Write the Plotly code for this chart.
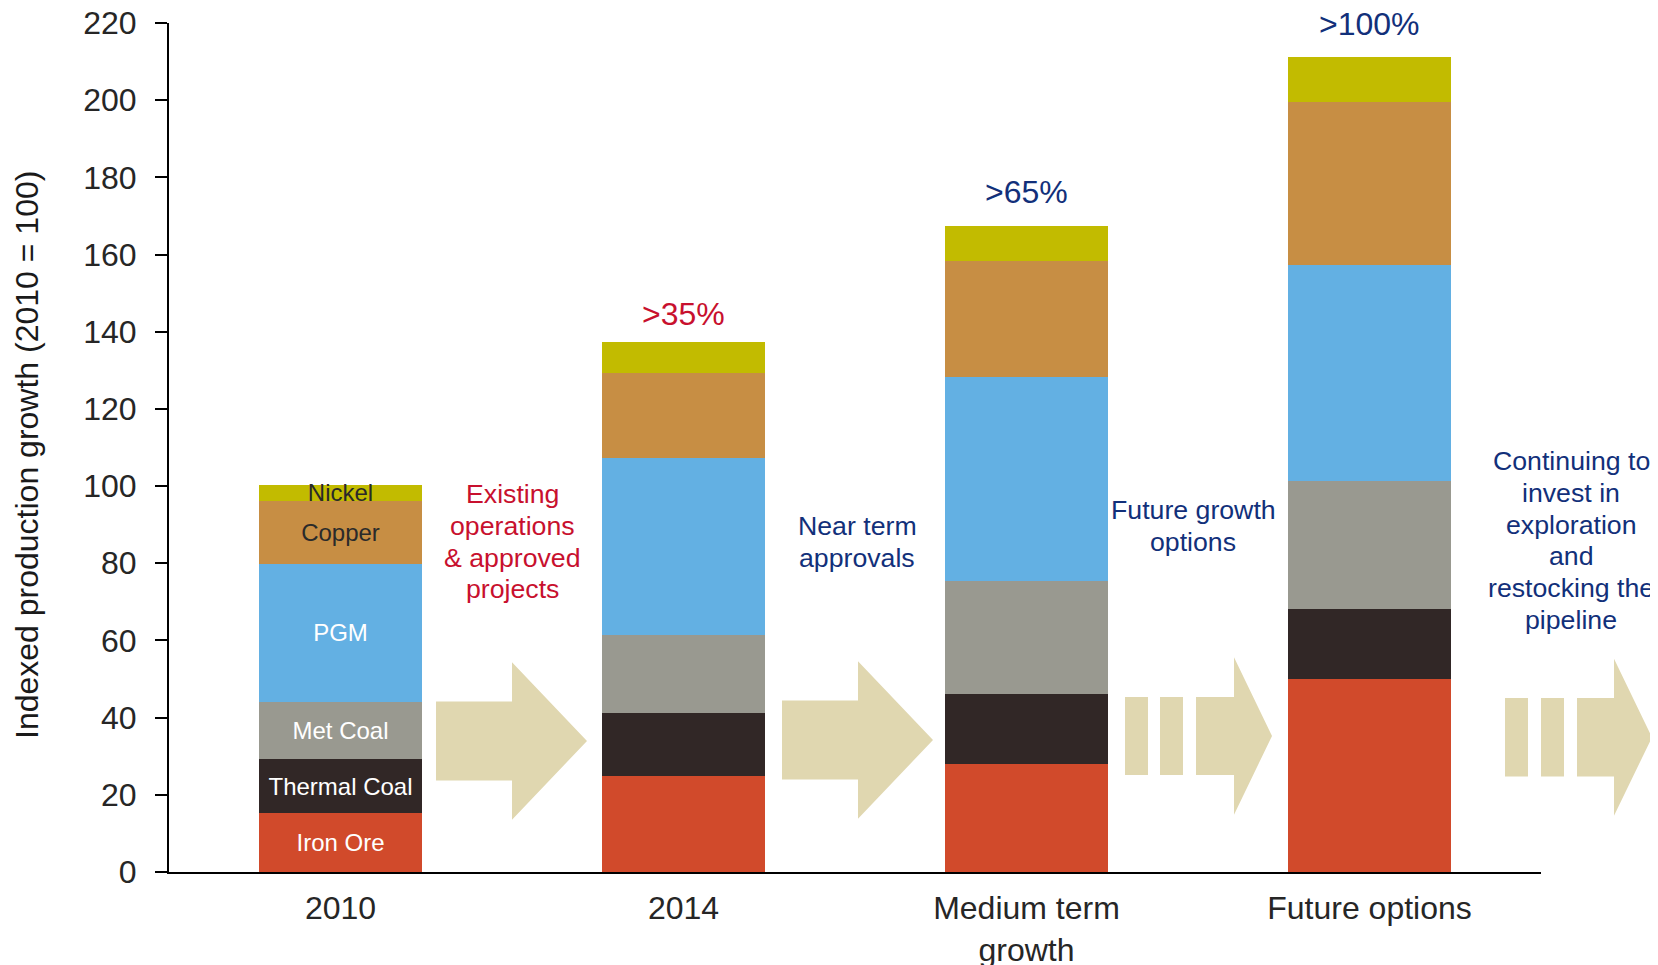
import plotly.graph_objects as go

# ---------------- data ----------------
categories = ["2010", "2014", "Medium term<br>growth", "Future options"]
series_names = ["Iron Ore", "Thermal Coal", "Met Coal", "PGM", "Copper", "Nickel"]
iron_ore = [15.2, 25.0, 28.0, 49.9]
thermal_coal = [14.0, 16.1, 18.2, 18.2]
met_coal = [14.9, 20.2, 29.1, 33.2]
pgm = [35.8, 45.9, 53.0, 56.1]
copper = [16.3, 22.1, 30.0, 42.1]
nickel = [4.2, 8.0, 9.1, 11.8]
growth_labels = ["", ">35%", ">65%", ">100%"]
y_ticks = [0, 20, 40, 60, 80, 100, 120, 140, 160, 180, 200, 220]

series_values = [iron_ore, thermal_coal, met_coal, pgm, copper, nickel]
colors = ["#D14A2B", "#312726", "#999990", "#63B0E3", "#C78E44", "#C2BB00"]
label_colors = ["#FFFFFF", "#FFFFFF", "#FFFFFF", "#FFFFFF", "#2A2A2A", "#2A2A2A"]

RED = "#C8102E"
NAVY = "#12307A"
ARROW = "#E0D7B0"
FONT = "Liberation Sans, Arial, sans-serif"

# ---------------- layout geometry (page pixels) ----------------
PAGE_OFF = 8                     # default body margin of the html page
FW, FH = 1658 - PAGE_OFF, 965 - PAGE_OFF
PL, PR, PT, PB = 169, 1541, 23, 872   # plot area on the page
L, T = PL - PAGE_OFF, PT - PAGE_OFF
W, H = PR - PL, PB - PT
R, B = FW - L - W, FH - T - H


def px_x(px):
    return (px - PL) / W


def px_y(py):
    return (PB - py) / H


fig = go.Figure()

for name, vals, col, lc in zip(series_names, series_values, colors, label_colors):
    fig.add_trace(go.Bar(
        x=categories, y=vals, name=name,
        marker=dict(color=col, line=dict(width=0)),
        width=0.478,
        text=[name, "", "", ""],
        textposition="inside",
        insidetextanchor="middle",
        textangle=0,
        constraintext="none",
        textfont=dict(family=FONT, size=24, color=lc),
        hoverinfo="x+y+name",
    ))

annotations = []

# growth labels above bars
totals = [sum(v[i] for v in series_values) for i in range(len(categories))]
label_shift = [0, 28, 34, 33]
label_color = [RED, RED, NAVY, NAVY]
for i, lab in enumerate(growth_labels):
    if lab:
        annotations.append(dict(
            x=i, y=totals[i], xref="x", yref="y", text=lab, showarrow=False,
            xanchor="center", yanchor="middle", yshift=label_shift[i],
            font=dict(family=FONT, size=32, color=label_color[i]),
        ))


def add_lines(lines, cx, ys, color):
    for line, py in zip(lines, ys):
        annotations.append(dict(
            x=px_x(cx), y=px_y(py), xref="paper", yref="paper", text=line,
            showarrow=False, xanchor="center", yanchor="middle",
            font=dict(family=FONT, size=26.7, color=color),
        ))


add_lines(["Existing", "operations", "&amp; approved", "projects"], 512,
          [494, 525.5, 557.5, 589], RED)
add_lines(["Near term", "approvals"], 857.5, [525.5, 557.5], NAVY)
add_lines(["Future growth", "options"], 1193, [510, 541.5], NAVY)
add_lines(["Continuing to", "invest in", "exploration", "and",
           "restocking the", "pipeline"], 1571,
          [461, 493, 524.5, 556, 588, 619.5], NAVY)

# y-axis title
annotations.append(dict(
    x=px_x(27), y=px_y(455), xref="paper", yref="paper",
    text="Indexed production growth (2010 = 100)", textangle=-90,
    showarrow=False, xanchor="center", yanchor="middle",
    font=dict(family=FONT, size=32, color="#1A1A1A"),
))


# ---------------- arrows ----------------
def solid_arrow(x0, xs, xt, cy, hs, hh):
    pts = [(x0, cy - hs), (xs, cy - hs), (xs, cy - hh), (xt, cy),
           (xs, cy + hh), (xs, cy + hs), (x0, cy + hs)]
    return "M " + " L ".join(f"{px_x(a):.5f},{px_y(b):.5f}" for a, b in pts) + " Z"


def rect_path(x0, x1, y0, y1):
    pts = [(x0, y0), (x1, y0), (x1, y1), (x0, y1)]
    return "M " + " L ".join(f"{px_x(a):.5f},{px_y(b):.5f}" for a, b in pts) + " Z"


shapes = []
for path in [
    solid_arrow(436, 512, 587, 741, 39.5, 78.7),
    solid_arrow(782, 858, 933, 740, 39.5, 78.7),
    rect_path(1125, 1148, 697, 775),
    rect_path(1160, 1183, 697, 775),
    solid_arrow(1196, 1234, 1272, 736, 39, 78.7),
    rect_path(1505, 1528, 698, 776.5),
    rect_path(1541, 1564, 698, 776.5),
    solid_arrow(1577, 1614, 1652, 737.3, 39.3, 78.5),
]:
    shapes.append(dict(type="path", path=path, xref="paper", yref="paper",
                       fillcolor=ARROW, line=dict(width=0), layer="below"))

fig.update_layout(
    barmode="stack",
    width=FW, height=FH,
    margin=dict(l=L, r=R, t=T, b=B, pad=0, autoexpand=False),
    paper_bgcolor="white", plot_bgcolor="white",
    showlegend=False,
    annotations=annotations,
    shapes=shapes,
    uniformtext=dict(minsize=24, mode="show"),
    font=dict(family=FONT),
)

fig.update_xaxes(
    range=[-0.5, 3.5], showgrid=False, zeroline=False, automargin=False,
    showline=True, linecolor="#000000", linewidth=2,
    ticks="", tickfont=dict(family=FONT, size=32, color="#262626"),
    ticklabelstandoff=7, ticklabeloverflow="allow",
)
fig.update_yaxes(
    range=[0, 220], tickvals=y_ticks, showgrid=False, zeroline=False,
    automargin=False,
    showline=True, linecolor="#000000", linewidth=2,
    ticks="outside", ticklen=12, tickwidth=2, tickcolor="#000000",
    tickfont=dict(family=FONT, size=32, color="#262626"),
    ticklabelstandoff=12, ticklabeloverflow="allow",
)

fig.write_html("out.html")
